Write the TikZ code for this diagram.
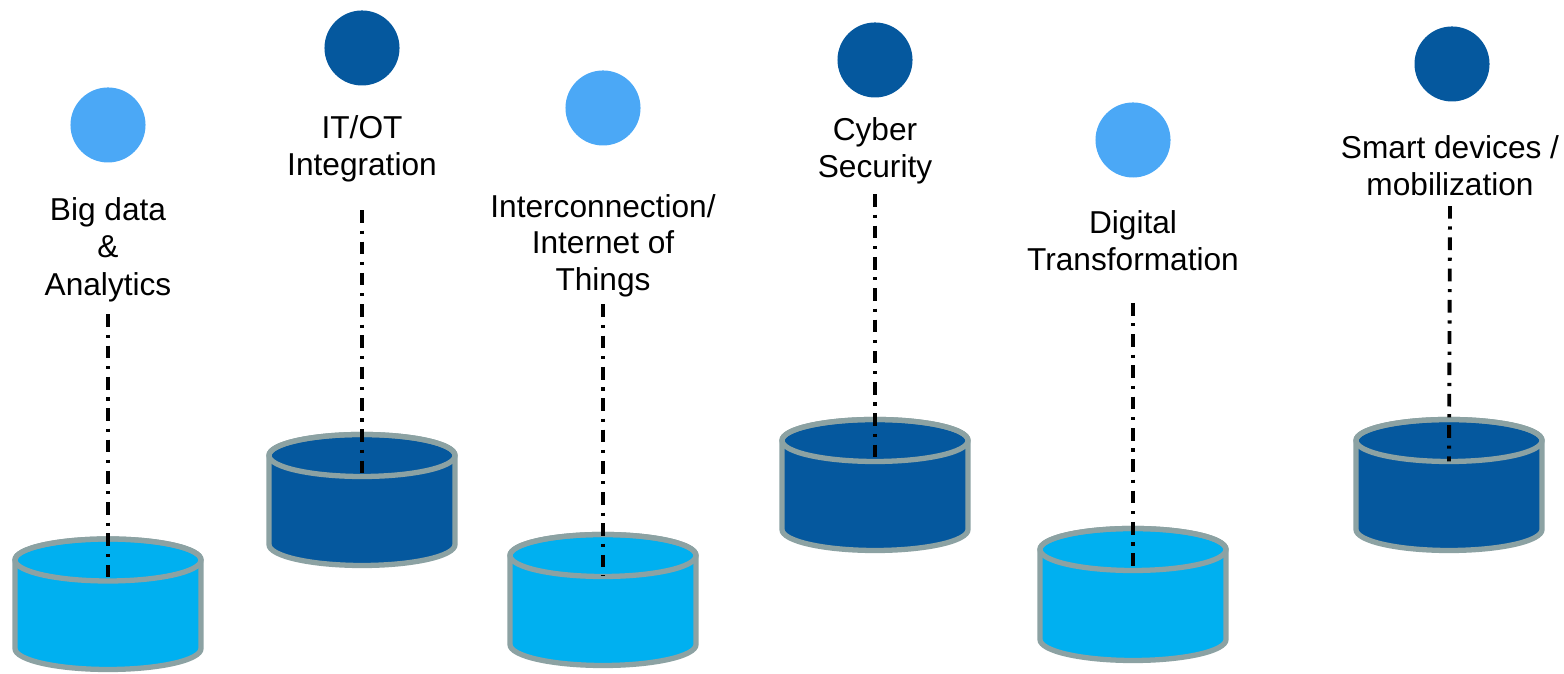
\documentclass[tikz,border=0pt]{standalone}
\usepackage{fontspec}
\setmainfont{Liberation Sans}
\usepackage{xcolor}
\definecolor{deepblue}{RGB}{5,88,158}
\definecolor{cyanblue}{RGB}{0,176,240}
\definecolor{skyblue}{RGB}{75,168,246}
\definecolor{rimgray}{RGB}{140,162,163}
\usepackage{tikz}
\tikzset{
  headdot/.style={circle, inner sep=0pt, minimum size=0.75cm, draw=none},
  lbl/.style={align=center, inner sep=0pt, anchor=north,
              font=\fontsize{9}{10.6}\selectfont},
  rim/.style={draw=rimgray, line width=1.5pt},
  axisline/.style={draw=black, line width=1.1pt,
                   dash pattern=on 3.6pt off 2.2pt on 0.9pt off 2.2pt},
}
%% drum: x, top y, bottom y, fill, name of front point on the lid
\newcommand{\drum}[5]{%
  \filldraw[rim, fill=#4]
    (#1-93,#2) -- (#1-93,#3) arc(180:360:93 and 21) -- (#1+93,#2)
    arc(0:180:93 and 21) -- cycle;
  \draw[rim] (#1,#2) ellipse (93 and 21);
  \coordinate (#5) at (#1,#2-21);
}

\begin{document}
\begin{tikzpicture}[x=0.01cm, y=0.01cm]
  \useasboundingbox (0,0) rectangle (1564,674);
  %% dots on top
  \node[headdot, fill=skyblue]  (bigdot)   at (108,549)  {};
  \node[headdot, fill=deepblue] (itotdot)  at (362,626)  {};
  \node[headdot, fill=skyblue]  (iotdot)   at (603,566)  {};
  \node[headdot, fill=deepblue] (cyberdot) at (875,614)  {};
  \node[headdot, fill=skyblue]  (digidot)  at (1133,534) {};
  \node[headdot, fill=deepblue] (smartdot) at (1452,610) {};
  %% labels
  \node[lbl] (bigtxt)   at (108,477)  {Big data\\\&\\Analytics};
  \node[lbl] (itottxt)  at (362,559)  {IT/OT\\Integration};
  \node[lbl, font=\fontsize{9}{10.3}\selectfont]
             (iottxt)   at (603,480)  {Interconnection/\\Internet of\\Things};
  \node[lbl] (cybertxt) at (875,557)  {Cyber\\Security};
  \node[lbl] (digitxt)  at (1133,464) {Digital\\Transformation};
  \node[lbl] (smarttxt) at (1450,539) {Smart devices /\\mobilization};
  %% drums
  \drum{108}{114}{25.5}{cyanblue}{bigtop}
  \drum{362}{218.5}{129.5}{deepblue}{itottop}
  \drum{603}{118.5}{29.5}{cyanblue}{iottop}
  \drum{875}{233.5}{144.5}{deepblue}{cybertop}
  \drum{1133}{124.5}{34.5}{cyanblue}{digitop}
  \drum{1449}{233.5}{144.5}{deepblue}{smarttop}
  %% dash-dot lines down to the lids
  \draw[axisline] ([yshift=-3.4pt]bigtxt.south)   -- (bigtop);
  \draw[axisline] ([yshift=-7.7pt]itottxt.south)  -- (itottop);
  \draw[axisline] ([yshift=-2pt]iottxt.south)     -- (iottop);
  \draw[axisline] ([yshift=-2.6pt]cybertxt.south) -- (cybertop);
  \draw[axisline] ([yshift=-8.8pt]digitxt.south)  -- (digitop);
  \draw[axisline] ([yshift=-2.6pt]smarttxt.south) -- (smarttop);
\end{tikzpicture}
\end{document}
